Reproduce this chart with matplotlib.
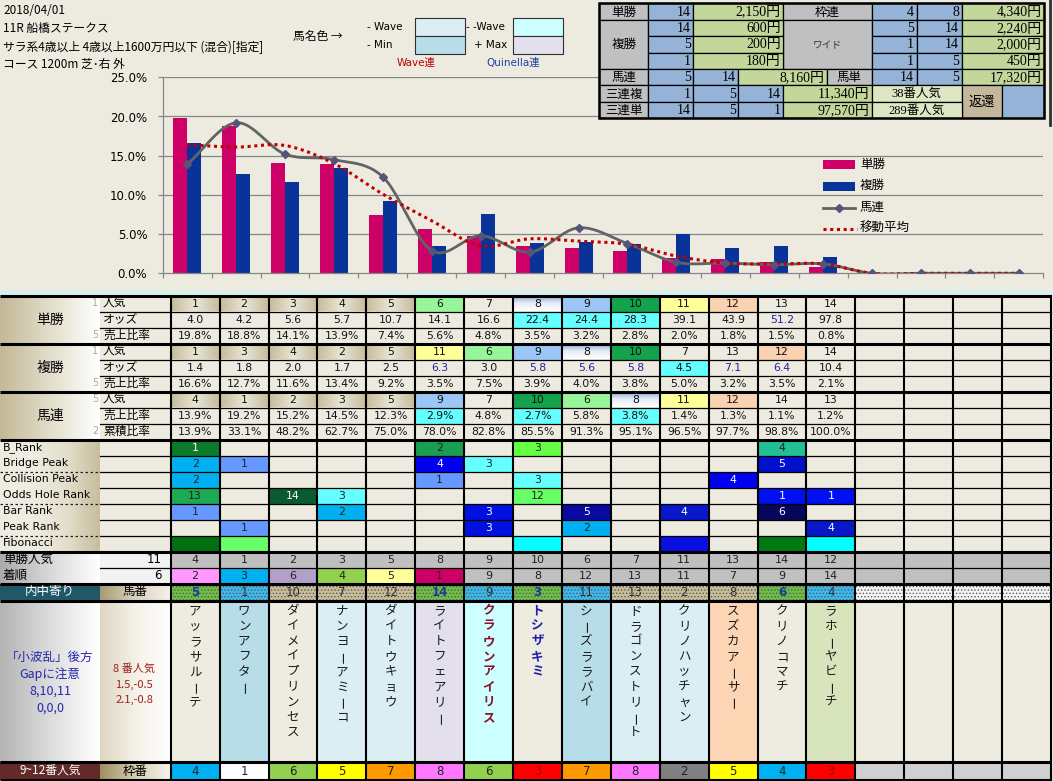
import numpy as np
import matplotlib.pyplot as plt
from matplotlib.patches import Rectangle
from matplotlib.colors import to_rgb

JP = ['Noto Sans CJK JP', 'DejaVu Sans']
SERIF = ['Liberation Serif', 'Noto Sans CJK JP']
plt.rcParams['font.family'] = ['DejaVu Sans', 'Noto Sans CJK JP']
plt.rcParams['hatch.linewidth'] = 0.6

BG = '#EDEBE0'
CELL = '#EEECE1'

# ---------------- data ----------------
date_text = '2018/04/01'
race_text = '11R 船橋ステークス'
cond_text = 'サラ系4歳以上 4歳以上1600万円以下 (混合)[指定]'
course_text = 'コース 1200m 芝･右 外'

# chart series (popularity order, 18 slots)
win_share = [19.8, 18.8, 14.1, 13.9, 7.4, 5.6, 4.8, 3.5, 3.2, 2.8, 2.0, 1.8, 1.5, 0.8]
place_share = [16.6, 12.7, 11.6, 13.4, 9.2, 3.5, 7.5, 3.9, 4.0, 3.8, 5.0, 3.2, 3.5, 2.1]
quinella_line = [13.9, 19.2, 15.2, 14.5, 12.3, 2.9, 4.8, 2.7, 5.8, 3.8, 1.4, 1.3, 1.1, 1.2, 0, 0, 0, 0]
moving_avg = [16.4, 16.1, 16.3, 14.0, 10.1, 6.7, 3.5, 4.4, 4.1, 3.7, 2.2, 1.3, 1.2, 1.2, 0, 0, 0, 0]
legend_labels = ['単勝', '複勝', '馬連', '移動平均']

# table rows
win_pop = [1, 2, 3, 4, 5, 6, 7, 8, 9, 10, 11, 12, 13, 14]
win_odds = ['4.0', '4.2', '5.6', '5.7', '10.7', '14.1', '16.6', '22.4', '24.4', '28.3', '39.1', '43.9', '51.2', '97.8']
place_pop = [1, 3, 4, 2, 5, 11, 6, 9, 8, 10, 7, 13, 12, 14]
place_odds = ['1.4', '1.8', '2.0', '1.7', '2.5', '6.3', '3.0', '5.8', '5.6', '5.8', '4.5', '7.1', '6.4', '10.4']
quin_pop = [4, 1, 2, 3, 5, 9, 7, 10, 6, 8, 11, 12, 14, 13]
quin_share = [13.9, 19.2, 15.2, 14.5, 12.3, 2.9, 4.8, 2.7, 5.8, 3.8, 1.4, 1.3, 1.1, 1.2]
quin_cum = [13.9, 33.1, 48.2, 62.7, 75.0, 78.0, 82.8, 85.5, 91.3, 95.1, 96.5, 97.7, 98.8, 100.0]

rank_labels = ['B_Rank', 'Bridge Peak', 'Collision Peak', 'Odds Hole Rank', 'Bar Rank', 'Peak Rank', 'Fibonacci']
rank_cells = [
    {1: ('1', '#0B7A2A', 'w'), 6: ('2', '#18A050', 'k'), 8: ('3', '#66FF44', 'k'), 13: ('4', '#22C095', 'k')},
    {1: ('2', '#00B0F0', 'k'), 2: ('1', '#6699FF', 'k'), 6: ('4', '#0000F0', 'w'), 7: ('3', '#66FFFF', 'k'), 13: ('5', '#0010CC', 'w')},
    {1: ('2', '#00B0F0', 'k'), 6: ('1', '#6699FF', 'k'), 8: ('3', '#66FFFF', 'k'), 12: ('4', '#0000F0', 'w')},
    {1: ('13', '#1DAA55', 'k'), 3: ('14', '#0A5C30', 'w'), 4: ('3', '#66FFFF', 'k'), 8: ('12', '#66FF66', 'k'),
     13: ('1', '#0010F0', 'w'), 14: ('1', '#0010F0', 'w')},
    {1: ('1', '#6699FF', 'k'), 4: ('2', '#00B0F0', 'k'), 7: ('3', '#0010E0', 'w'), 9: ('5', '#0A0AA0', 'w'),
     11: ('4', '#0818C8', 'w'), 13: ('6', '#06065C', 'w')},
    {2: ('1', '#6699FF', 'k'), 7: ('3', '#0010E0', 'w'), 9: ('2', '#00B0F0', 'k'), 14: ('4', '#0818C8', 'w')},
    {1: ('', '#007010', 'k'), 2: ('', '#66FF66', 'k'), 8: ('', '#00FFFF', 'k'), 11: ('', '#0A10E0', 'k'),
     13: ('', '#007A10', 'k'), 14: ('', '#00FFFF', 'k')},
]

win_rank_row = [4, 1, 2, 3, 5, 8, 9, 10, 6, 7, 11, 13, 14, 12]
finish_row = [2, 3, 6, 4, 5, 1, 9, 8, 12, 13, 11, 7, 9, 14]
horse_no = [5, 1, 10, 7, 12, 14, 9, 3, 11, 13, 2, 8, 6, 4]
frame_no = [4, 1, 6, 5, 7, 8, 6, 3, 7, 8, 2, 5, 4, 3]
horse_names = ['アッラサルーテ', 'ワンアフター', 'ダイメイプリンセス', 'ナンヨーアミーコ', 'ダイトウキョウ',
               'ライトフェアリー', 'クラウンアイリス', 'トシザキミ', 'シーズララバイ', 'ドラゴンストリート',
               'クリノハッチャン', 'スズカアーサー', 'クリノコマチ', 'ラホーヤビーチ']

# payout table: (col0, col1, row0, row1, text, kind)
payout = [
    (0, 1, 0, 1, '単勝', 'gray'), (1, 2, 0, 1, '14', 'blue'), (2, 4, 0, 1, '2,150円', 'green'),
    (4, 6, 0, 1, '枠連', 'gray'), (6, 7, 0, 1, '4', 'blue'), (7, 8, 0, 1, '8', 'blue'), (8, 10, 0, 1, '4,340円', 'green'),
    (0, 1, 1, 4, '複勝', 'gray'), (4, 6, 1, 4, 'ワイド', 'gray'),
    (1, 2, 1, 2, '14', 'blue'), (2, 4, 1, 2, '600円', 'green'), (6, 7, 1, 2, '5', 'blue'), (7, 8, 1, 2, '14', 'blue'), (8, 10, 1, 2, '2,240円', 'green'),
    (1, 2, 2, 3, '5', 'blue'), (2, 4, 2, 3, '200円', 'green'), (6, 7, 2, 3, '1', 'blue'), (7, 8, 2, 3, '14', 'blue'), (8, 10, 2, 3, '2,000円', 'green'),
    (1, 2, 3, 4, '1', 'blue'), (2, 4, 3, 4, '180円', 'green'), (6, 7, 3, 4, '1', 'blue'), (7, 8, 3, 4, '5', 'blue'), (8, 10, 3, 4, '450円', 'green'),
    (0, 1, 4, 5, '馬連', 'gray'), (1, 2, 4, 5, '5', 'blue'), (2, 3, 4, 5, '14', 'blue'), (3, 5, 4, 5, '8,160円', 'green'),
    (5, 6, 4, 5, '馬単', 'gray'), (6, 7, 4, 5, '14', 'blue'), (7, 8, 4, 5, '5', 'blue'), (8, 10, 4, 5, '17,320円', 'green'),
    (0, 1, 5, 6, '三連複', 'gray'), (1, 2, 5, 6, '1', 'blue'), (2, 3, 5, 6, '5', 'blue'), (3, 4, 5, 6, '14', 'blue'),
    (4, 6, 5, 6, '11,340円', 'green'), (6, 8, 5, 6, '38番人気', 'lgreen'), (8, 9, 5, 7, '返還', 'tan'), (9, 10, 5, 7, '', 'blue'),
    (0, 1, 6, 7, '三連単', 'gray'), (1, 2, 6, 7, '14', 'blue'), (2, 3, 6, 7, '5', 'blue'), (3, 4, 6, 7, '1', 'blue'),
    (4, 6, 6, 7, '97,570円', 'green'), (6, 8, 6, 7, '289番人気', 'lgreen'),
]

# ---------------- styles ----------------
TAN = 'T'
BLUEG = 'B'
LG, DG, LB, YL, PE, CY = '#99F599', '#14A24C', '#9CC6F6', '#FFFF99', '#FAD2B0', '#66FFFF'
NAVY = '#2222A0'
row_colors = [
    {1: TAN, 2: TAN, 3: TAN, 4: TAN, 5: TAN, 6: LG, 8: BLUEG, 9: LB, 10: DG, 11: YL, 12: PE},
    {8: CY, 9: CY, 10: CY},
    {},
    {1: TAN, 2: TAN, 3: TAN, 4: TAN, 5: TAN, 6: YL, 7: LG, 8: LB, 9: BLUEG, 10: DG, 13: PE},
    {11: CY},
    {},
    {1: TAN, 2: TAN, 3: TAN, 4: TAN, 5: TAN, 6: LB, 8: DG, 9: LG, 10: BLUEG, 11: YL, 12: PE},
    {6: CY, 8: CY, 10: CY},
    {},
]
row_textcolors = [{}, {13: NAVY}, {}, {}, {6: NAVY, 8: NAVY, 9: NAVY, 10: NAVY, 12: NAVY, 13: NAVY}, {}, {}, {}, {}]
finish_colors = {1: '#FF99FF', 2: '#00B0F0', 3: '#B1A0C7', 4: '#92D050', 5: '#FFFF99', 6: '#CC0066'}
hatch_colors = ['#6DBE45', '#3CB9EC', '#CABD9A', '#CABD9A', '#CABD9A', '#6DBE45', '#3CB9EC',
                '#6DBE45', '#3CB9EC', '#CABD9A', '#CABD9A', '#CABD9A', '#6DBE45', '#3CB9EC']
name_bg = [CELL, '#B7DDE8', CELL, '#DAEEF3', '#DAEEF3', '#E4DFEC', '#CCFFFF', CELL, '#B7DDE8',
           '#DAEEF3', '#DAEEF3', '#FCD5B4', CELL, '#D8E4BC']
frame_colors = {1: '#FFFFFF', 2: '#808080', 3: '#FF0000', 4: '#00B0F0', 5: '#FFFF00', 6: '#92D050', 7: '#FF9900', 8: '#FF77FF'}
pay_colors = {'gray': '#C0C0C0', 'blue': '#95B3D7', 'green': '#C4D79B', 'lgreen': '#DDE7C4', 'tan': '#C4B89C'}

COL0, CW, NCOL = 170.7, 48.9, 18
W, H = 1053, 781

fig = plt.figure(figsize=(W / 100, H / 100), dpi=100, facecolor=BG)
ax = fig.add_axes([0, 0, 1, 1], zorder=0)
ax.set_facecolor(BG)


def rect(a, x0, y0, x1, y1, fc, z=1, **kw):
    a.add_patch(Rectangle((x0, y0), x1 - x0, y1 - y0, facecolor=fc, edgecolor=kw.pop('ec', 'none'), zorder=z, **kw))


def grad(a, x0, y0, x1, y1, colors, horizontal=True):
    cs = np.array([to_rgb(c) for c in colors])
    t = np.linspace(0, 1, 64)
    pos = np.linspace(0, 1, len(cs))
    arr = np.stack([np.interp(t, pos, cs[:, i]) for i in range(3)], axis=-1)
    arr = arr[None, :, :] if horizontal else arr[:, None, :]
    a.imshow(arr, extent=(x0, x1, y1, y0), aspect='auto', interpolation='bilinear', zorder=1)


def txt(a, x, y, s, size=7.8, ha='center', color='black', family=None, weight='normal', **kw):
    return a.text(x, y, s, fontsize=size, ha=ha, va='center', color=color, family=family or ['DejaVu Sans', 'Noto Sans CJK JP'],
                  weight=weight, zorder=6, **kw)


def cx(k):
    return COL0 + CW * (k - 1), COL0 + CW * k


# ---------------- header texts ----------------
txt(ax, 3, 10, date_text, 8.5, 'left', family=JP)
txt(ax, 3, 28, race_text, 8.5, 'left', family=JP)
t = txt(ax, 3, 47, cond_text, 8.5, 'left', family=JP)
t.set_clip_path(Rectangle((0, 0), 268, 781, transform=ax.transData))
txt(ax, 3, 64, course_text, 8.5, 'left', family=JP)

txt(ax, 293, 36, '馬名色 →', 8.5, 'left', family=JP)
txt(ax, 367, 27, '- Wave', 7.5, 'left')
txt(ax, 367, 45, '- Min', 7.5, 'left')
txt(ax, 466, 27, '- -Wave', 7.5, 'left')
txt(ax, 474, 45, '+ Max', 7.5, 'left')
rect(ax, 415, 17.5, 465, 36, '#DAEEF3', ec='#303030', lw=0.8)
rect(ax, 415, 36, 465, 54, '#B7DDE8', ec='#303030', lw=0.8)
rect(ax, 513, 17.5, 563, 36, '#CCFFFF', ec='#303030', lw=0.8)
rect(ax, 513, 36, 563, 54, '#E4DFEC', ec='#303030', lw=0.8)
txt(ax, 416, 63, 'Wave連', 7.5, color='#C00000', family=['DejaVu Sans', 'Noto Sans CJK JP'])
txt(ax, 513, 63, 'Quinella連', 7.5, color='#1F3FA0')

# chart area bottom strip
ax.plot([0, 1051], [292, 292], color='#D2F2F2', lw=2.5, zorder=2)

# ---------------- group rows ----------------
Y0 = 295.5
RH = 16.0
group_titles = ['単勝', '複勝', '馬連']
sub_labels = [['人気', 'オッズ', '売上比率'], ['人気', 'オッズ', '売上比率'], ['人気', '売上比率', '累積比率']]
side_nums = [['1', '', '5'], ['1', '', '5'], ['5', '', '2']]
row_texts = [
    [str(v) for v in win_pop], win_odds, ['%.1f%%' % v for v in win_share],
    [str(v) for v in place_pop], place_odds, ['%.1f%%' % v for v in place_share],
    [str(v) for v in quin_pop], ['%.1f%%' % v for v in quin_share], ['%.1f%%' % v for v in quin_cum],
]
for g in range(3):
    gy0 = Y0 + g * 3 * RH
    grad(ax, 0, gy0, 100, gy0 + 3 * RH, ['#C3B997', '#E2DDCB', '#FFFFFF'])
    txt(ax, 50, gy0 + 1.5 * RH, group_titles[g], 10, family=JP)
    for r in range(3):
        y0 = gy0 + r * RH
        txt(ax, 103, y0 + RH / 2, sub_labels[g][r], 8.5, 'left', family=JP)
        if side_nums[g][r]:
            txt(ax, 95, y0 + RH / 2, side_nums[g][r], 7, color='#A8A8A8')
        ri = g * 3 + r
        for k in range(1, 15):
            x0, x1 = cx(k)
            c = row_colors[ri].get(k)
            if c == TAN:
                grad(ax, x0, y0, x1, y0 + RH, ['#C6BC9A', '#E9E5D6', '#C6BC9A'])
            elif c == BLUEG:
                grad(ax, x0, y0, x1, y0 + RH, ['#7E9ED6', '#E6ECF6', '#FFFFFF'], horizontal=False)
            elif c:
                rect(ax, x0, y0, x1, y0 + RH, c)
            txt(ax, (x0 + x1) / 2, y0 + RH / 2 + 0.5, row_texts[ri][k - 1],
                color=row_textcolors[ri].get(k, '#111111'))

# ---------------- rank rows ----------------
RY0 = Y0 + 9 * RH
grad(ax, 0, RY0, 100, RY0 + 7 * RH, [CELL, CELL, '#E4DFCC', '#C8BE9E'])
for j, lab in enumerate(rank_labels):
    y0 = RY0 + j * RH
    txt(ax, 3, y0 + RH / 2, lab, 7.8, 'left')
    for k, (s, c, tc) in rank_cells[j].items():
        x0, x1 = cx(k)
        rect(ax, x0, y0, x1, y0 + RH, c)
        if s:
            txt(ax, (x0 + x1) / 2, y0 + RH / 2 + 0.5, s, color='white' if tc == 'w' else '#222222')
for yy in (RY0 + 2 * RH, RY0 + 4 * RH, RY0 + 6 * RH):
    ax.plot([0, 100], [yy, yy], color='#202020', lw=0.9, ls=(0, (2, 2)), zorder=3)

# ---------------- win rank / finish ----------------
SY = RY0 + 7 * RH
for j, (lab, num, vals) in enumerate([('単勝人気', '11', win_rank_row), ('着順', '6', finish_row)]):
    y0 = SY + j * RH
    grad(ax, 0, y0, 100, y0 + RH, ['#ABABAB', '#D8D8D8', '#FFFFFF'])
    rect(ax, 100, y0, COL0, y0 + RH, '#F2F2F2')
    txt(ax, 3, y0 + RH / 2, lab, 9, 'left', family=JP)
    txt(ax, 162, y0 + RH / 2, num, 8.5, 'right')
    for k in range(1, NCOL + 1):
        x0, x1 = cx(k)
        c = finish_colors.get(k, '#C0C0C0') if j == 1 else '#C0C0C0'
        rect(ax, x0, y0, x1, y0 + RH, c)
        if k <= 14:
            txt(ax, (x0 + x1) / 2, y0 + RH / 2 + 0.5, str(vals[k - 1]), 8, color='#222222')

# horse number row
HY0, HY1 = SY + 2 * RH, 600.5
rect(ax, 0, HY0, 100, HY1, '#215868')
txt(ax, 50, (HY0 + HY1) / 2, '内中寄り', 9, color='white', family=JP)
grad(ax, 100, HY0, COL0, HY1, ['#A99B72', '#D9D2BC', '#F4F2EA'])
txt(ax, 135, (HY0 + HY1) / 2, '馬番', 9, family=JP)
for k in range(1, NCOL + 1):
    x0, x1 = cx(k)
    c = hatch_colors[k - 1] if k <= 14 else '#F4F4F4'
    rect(ax, x0, HY0, x1, HY1, c)
    ax.add_patch(Rectangle((x0, HY0), CW, HY1 - HY0, fill=False, hatch='.....', edgecolor='#5A5A5A', lw=0, zorder=2))
    if k <= 14:
        bold = horse_no[k - 1] in (5, 14, 3, 6)
        txt(ax, (x0 + x1) / 2, (HY0 + HY1) / 2 + 0.5, str(horse_no[k - 1]), 8.5,
            color='#1A3A9A' if bold else '#303030', weight='bold' if bold else 'normal')

# ---------------- names row ----------------
NY0, NY1 = 600.5, 762
grad(ax, 0, NY0, 100, NY1, ['#B4B4B4', '#DCDCDC', '#FFFFFF'])
grad(ax, 100, NY0, COL0, NY1, ['#DED7C2', '#F4F1E8', '#FFFFFF'])
for i, s in enumerate(['「小波乱」後方', 'Gapに注意', '8,10,11', '0,0,0']):
    txt(ax, 50, 657 + i * 17, s, 9, color='#2626B0', family=JP)
for i, s in enumerate(['8 番人気', '1.5,-0.5', '2.1,-0.8']):
    txt(ax, 134, 669 + i * 15.5, s, 8, color='#A02020', family=JP)
for k in range(1, NCOL + 1):
    x0, x1 = cx(k)
    rect(ax, x0, NY0, x1, NY1, name_bg[k - 1] if k <= 14 else CELL)
    if k <= 14:
        name = horse_names[k - 1]
        color, weight = '#1A1A1A', 'normal'
        if name == 'クラウンアイリス':
            color, weight = '#8E1028', 'bold'
        elif name == 'トシザキミ':
            color, weight = '#1E1EA8', 'bold'
        for i, ch in enumerate(name):
            long_mark = ch == 'ー'
            txt(ax, (x0 + x1) / 2 + (2.2 if long_mark else 0), 611 + i * 15.2, ch, 9, color=color,
                family=JP, weight=weight, rotation=90 if long_mark else 0)

# ---------------- frame row ----------------
FY0, FY1 = 762, 780
rect(ax, 0, FY0, 100, FY1, '#632A2A')
txt(ax, 50, (FY0 + FY1) / 2, '9~12番人気', 8.5, color='white', family=JP)
grad(ax, 100, FY0, COL0, FY1, ['#A09062', '#D6CDB2', '#F6F4EE'])
txt(ax, 135, (FY0 + FY1) / 2, '枠番', 9, family=JP)
for k in range(1, NCOL + 1):
    x0, x1 = cx(k)
    if k <= 14:
        f = frame_no[k - 1]
        rect(ax, x0, FY0, x1, FY1, frame_colors[f])
        txt(ax, (x0 + x1) / 2, (FY0 + FY1) / 2 + 0.5, str(f), 8.5, color='#8A1010' if f == 3 else '#222222')
    else:
        rect(ax, x0, FY0, x1, FY1, '#D0D0D0')

# ---------------- grid lines ----------------
XR = COL0 + CW * NCOL
thick = [Y0, Y0 + 3 * RH, Y0 + 6 * RH, RY0, SY, HY0, HY1, FY0, FY1]
for yy in thick:
    ax.plot([0, XR], [yy, yy], color='black', lw=2.2, zorder=4, solid_capstyle='butt')
thin = [Y0 + RH * i for i in (1, 2, 4, 5, 7, 8)] + [RY0 + RH * i for i in range(1, 7)] + [SY + RH]
for yy in thin:
    ax.plot([100, XR], [yy, yy], color='black', lw=0.9, zorder=4)
for k in range(NCOL + 1):
    xx = COL0 + CW * k
    ax.plot([xx, xx], [Y0, FY1], color='black', lw=1.5, zorder=4)

ax.set_xlim(0, W)
ax.set_ylim(H, 0)
ax.axis('off')

# ---------------- chart ----------------
CX0, CX1, CY0, CY1 = 162.7, 1043.3, 77.3, 273.3
cax = fig.add_axes([CX0 / W, 1 - CY1 / H, (CX1 - CX0) / W, (CY1 - CY0) / H], zorder=1)
cax.set_facecolor('none')
cax.set_xlim(0, 18)
cax.set_ylim(0, 25)


def smooth(xs, ys, n=24):
    x = np.asarray(xs, float)
    y = np.asarray(ys, float)
    px = np.concatenate([[2 * x[0] - x[1]], x, [2 * x[-1] - x[-2]]])
    py = np.concatenate([[2 * y[0] - y[1]], y, [2 * y[-1] - y[-2]]])
    tt = np.linspace(0, 1, n)
    ox, oy = [], []
    for i in range(1, len(px) - 2):
        for p, o in ((px, ox), (py, oy)):
            p0, p1, p2, p3 = p[i - 1], p[i], p[i + 1], p[i + 2]
            o.append(0.5 * (2 * p1 + (-p0 + p2) * tt + (2 * p0 - 5 * p1 + 4 * p2 - p3) * tt ** 2
                            + (-p0 + 3 * p1 - 3 * p2 + p3) * tt ** 3))
    return np.concatenate(ox), np.concatenate(oy)


centers = np.arange(18) + 0.5
bw = 14 / 48.92
cax.bar(centers[:14] - bw / 2, win_share, bw, color='#CC0066', zorder=2)
cax.bar(centers[:14] + bw / 2, place_share, bw, color='#0A3399', zorder=2)
sx, sy = smooth(centers, quinella_line)
cax.plot(sx, sy, color='#636363', lw=2.0, zorder=3)
mx, my = smooth(centers, moving_avg)
cax.plot(mx, my, color='#C00000', lw=2.2, ls=(0, (1, 1.2)), zorder=4)
cax.plot(centers, quinella_line, ls='none', marker='D', ms=3.6, color='#55557A', zorder=5)

cax.set_yticks(np.arange(0, 26, 5))
cax.set_yticklabels(['%.1f%%' % v for v in np.arange(0, 26, 5)], fontsize=8.5)
cax.set_xticks(np.arange(0, 19))
cax.set_xticklabels([])
cax.tick_params(axis='both', color='#868686', length=3.6, direction='out', width=0.9)
cax.tick_params(axis='y', pad=7.5)
for yv in range(5, 26, 5):
    cax.axhline(yv, color='#868686', lw=0.9, zorder=1)
for s in ('top', 'right'):
    cax.spines[s].set_visible(False)
for s in ('left', 'bottom'):
    cax.spines[s].set_color('#868686')
    cax.spines[s].set_linewidth(0.9)

# ---------------- top overlay: legend + payout ----------------
top = fig.add_axes([0, 0, 1, 1], zorder=3)
top.set_facecolor('none')
rect(top, 823, 160, 855, 169, '#CC0066')
rect(top, 823, 182, 855, 190.5, '#0A3399')
top.plot([823, 855], [207.5, 207.5], color='#636363', lw=2)
top.plot([839], [207.5], marker='D', ms=3.6, color='#55557A')
top.plot([823, 857], [228.5, 228.5], color='#C00000', lw=2.2, ls=(0, (1, 1.2)))
for i, lab in enumerate(legend_labels):
    txt(top, 860, 164.5 + i * 21.3, lab, 9, 'left', family=JP)

PX = [599, 648.3, 693.3, 738.3, 783.3, 826.7, 871.7, 916.7, 961.7, 1002.3, 1044]
PY = [3.3 + 16.43 * i for i in range(8)]
for c0, c1, r0, r1, s, kind in payout:
    x0, x1, y0, y1 = PX[c0], PX[c1], PY[r0], PY[r1]
    rect(top, x0, y0, x1, y1, pay_colors[kind], ec='black', lw=0.9)
    if not s:
        continue
    ym = (y0 + y1) / 2 + 0.5
    if kind in ('blue', 'green'):
        txt(top, x1 - 2.5, ym, s, 10, 'right', family=SERIF)
    elif s == 'ワイド':
        txt(top, (x0 + x1) / 2, ym, s, 7, color='#303030', family=JP)
    else:
        txt(top, (x0 + x1) / 2, ym, s, 9.5 if s == '返還' else 9, family=SERIF if '番' in s else JP)
rect(top, PX[0], PY[0], PX[-1], PY[-1], 'none', z=3, ec='black', lw=1.8)
top.plot([1050, 1050], [0, 125], color='#303030', lw=2)

top.set_xlim(0, W)
top.set_ylim(H, 0)
top.axis('off')

fig.savefig('out.png', dpi=100, facecolor=BG)
